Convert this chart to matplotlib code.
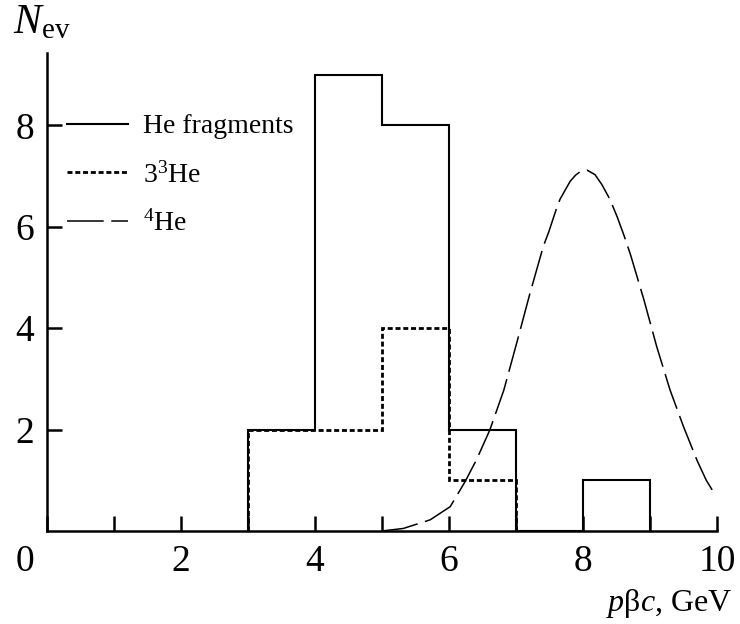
import numpy as np
import matplotlib.pyplot as plt
from matplotlib.transforms import ScaledTranslation

plt.rcParams['font.family'] = ['Liberation Serif', 'DejaVu Serif']
plt.rcParams['mathtext.fontset'] = 'custom'
plt.rcParams['mathtext.rm'] = 'Liberation Serif'
plt.rcParams['mathtext.it'] = 'Liberation Serif:italic'

# histogram data (bin edges in GeV, counts)
edges_all = [3, 4, 5, 6, 7, 8, 9]
counts_all = [2, 9, 8, 2, 0, 1]
edges_he3 = [3, 4, 5, 6, 7]
counts_he3 = [2, 2, 4, 1]

# 4He curve
he4_x = [5.0, 5.32, 5.72, 6.02, 6.24, 6.41, 6.61, 6.82, 7.01, 7.21, 7.41, 7.49,
         7.61, 7.66, 7.81, 7.89, 7.96, 8.06, 8.18, 8.28, 8.40, 8.51, 8.61,
         8.71, 8.91, 9.10, 9.30, 9.50, 9.70, 9.84, 9.98]
he4_y = [0.0, 0.05, 0.22, 0.48, 0.97, 1.40, 1.99, 2.78, 3.70, 4.69, 5.62, 5.90,
         6.38, 6.55, 6.90, 7.02, 7.09, 7.12, 7.03, 6.84, 6.55, 6.20, 5.84,
         5.45, 4.56, 3.64, 2.78, 2.06, 1.40, 1.00, 0.70]

W, H = 740, 624
fig = plt.figure(figsize=(W / 100, H / 100), dpi=100)
ax = fig.add_axes([46.7 / W, (H - 531) / H, (717 - 46.7) / W, (531 - 53) / H])

ax.stairs(counts_all, edges_all, baseline=0, color='black', lw=1.5,
          label='He fragments')
ax.stairs(counts_he3, edges_he3, baseline=0, color='black', lw=2.0,
          linestyle=(0, (1.8, 1.0)), label=r'3$^3$He')
ax.plot(he4_x, he4_y, color='black', lw=1.1, linestyle=(0, (24, 5)),
        label=r'$^4$He')

ax.set_xlim(0, 10)
ax.set_ylim(0, 9.43)
ax.spines['top'].set_visible(False)
ax.spines['right'].set_visible(False)
for s in ['left', 'bottom']:
    ax.spines[s].set_linewidth(1.8)

ax.set_xticks([0, 2, 4, 6, 8, 10])
ax.set_xticks([1, 3, 5, 7, 9], minor=True)
ax.set_yticks([2, 4, 6, 8])
ax.tick_params(axis='both', which='both', direction='in', length=11, width=1.8,
               labelsize=27)
ax.tick_params(axis='x', pad=10)
ax.tick_params(axis='y', pad=9)
# the "0" label sits left of the spine
lbl0 = ax.get_xticklabels()[0]
lbl0.set_transform(lbl0.get_transform()
                   + ScaledTranslation(-22 / 100, 0, fig.dpi_scale_trans))

leg = ax.legend(loc='upper left', bbox_to_anchor=(67 / W, 1 - 114 / H),
                bbox_transform=fig.transFigure, frameon=False, fontsize=20,
                handlelength=2.2, handletextpad=0.55, labelspacing=0.8,
                borderpad=0, borderaxespad=0)

fig.text(13 / W, 1 - 33 / H, r'$N_{\rm ev}$', fontsize=30, ha='left',
         va='baseline')
fig.text(732 / W, 1 - 611 / H, r'$p$β$c$, GeV', fontsize=23, ha='right',
         va='baseline')

fig.savefig('out.png', dpi=100)
